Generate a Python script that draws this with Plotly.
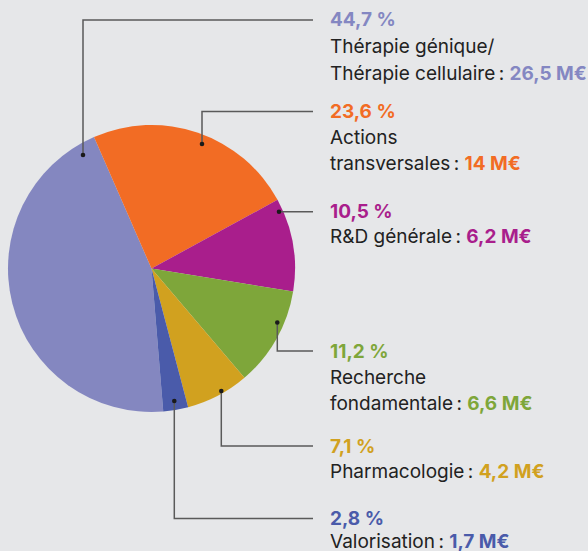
import plotly.graph_objects as go

W, H = 588, 551

# données
labels = ["Thérapie génique/ Thérapie cellulaire", "Actions transversales", "R&D générale",
          "Recherche fondamentale", "Pharmacologie", "Valorisation"]
pct = [44.7, 23.6, 10.5, 11.2, 7.1, 2.8]
pct_txt = ["44,7 %", "23,6 %", "10,5 %", "11,2 %", "7,1 %", "2,8 %"]
montants = ["26,5 M€", "14 M€", "6,2 M€", "6,6 M€", "4,2 M€", "1,7 M€"]
# lignes de texte du libellé (la dernière reçoit le montant)
libelles = [["Thérapie génique/", "Thérapie cellulaire"],
            ["Actions", "transversales"],
            ["R&D générale"],
            ["Recherche", "fondamentale"],
            ["Pharmacologie"],
            ["Valorisation"]]

couleurs = ["#8487C0", "#F26C24", "#A91E8C", "#7EA63A", "#D1A11F", "#4A5BAA"]
couleurs_txt = ["#8487C2", "#F26C24", "#A91E8C", "#7EA63A", "#D1A11F", "#4A5BAA"]

BG = "#E6E7E9"
TXT = "#222222"
LIGNE = "#5a5a5a"


def px(x):
    return x / W


def py(y):
    return 1 - y / H


fig = go.Figure()
fig.add_trace(go.Pie(
    labels=labels, values=pct, sort=False, direction="clockwise", rotation=175.3,
    marker=dict(colors=couleurs, line=dict(width=0)),
    textinfo="none", hoverinfo="label+percent", showlegend=False,
    domain=dict(x=[px(8), px(295)], y=[py(412), py(125)]),
))

# repères : point sur la part, type de coude, y du texte, interligne du bloc
reperes = [
    ((83, 155), "V", 20, 26.5),
    ((202, 144), "V", 111.5, 26),
    ((279, 211.7), "H", 211.7, 25),
    ((277.3, 322.5), "V", 351, 26),
    ((221.3, 391), "V", 446, 25.5),
    ((174.3, 401), "V", 518.5, 22.5),
]
x_fin = 313
x_txt = 327.5

shapes = []
annotations = []
for i, ((x0, y0), mode, yt, interligne) in enumerate(reperes):
    if mode == "V":
        path = f"M {px(x0)},{py(y0)} L {px(x0)},{py(yt)} L {px(x_fin)},{py(yt)}"
    else:
        path = f"M {px(x0)},{py(y0)} L {px(x_fin)},{py(yt)}"
    shapes.append(dict(type="path", path=path, xref="paper", yref="paper",
                       line=dict(color=LIGNE, width=1.5)))
    r = 2.3
    shapes.append(dict(type="circle", xref="paper", yref="paper",
                       x0=px(x0 - r), x1=px(x0 + r), y0=py(y0 + r), y1=py(y0 - r),
                       fillcolor="#1a1a1a", line=dict(width=0)))

    c = couleurs_txt[i]
    annotations.append(dict(x=px(x_txt), y=py(yt), xref="paper", yref="paper",
                            xanchor="left", yanchor="middle", showarrow=False,
                            text=f"<b>{pct_txt[i]}</b>",
                            font=dict(family="Inter", size=19, color=c)))
    lignes = libelles[i]
    for k, l in enumerate(lignes):
        t = l
        if k == len(lignes) - 1:
            t = f"{l}\u2009: <span style='color:{c}'><b>{montants[i]}</b></span>"
        annotations.append(dict(x=px(x_txt), y=py(yt + interligne * (k + 1)),
                                xref="paper", yref="paper",
                                xanchor="left", yanchor="middle", showarrow=False,
                                text=t, font=dict(family="Inter", size=19, color=TXT)))

fig.update_layout(
    width=W, height=H, margin=dict(l=0, r=0, t=0, b=0),
    paper_bgcolor=BG, plot_bgcolor=BG,
    shapes=shapes, annotations=annotations,
)

fig.write_html("out.html", config={"displayModeBar": False},
               post_script="document.body.style.margin='0';document.body.style.overflow='hidden';")
